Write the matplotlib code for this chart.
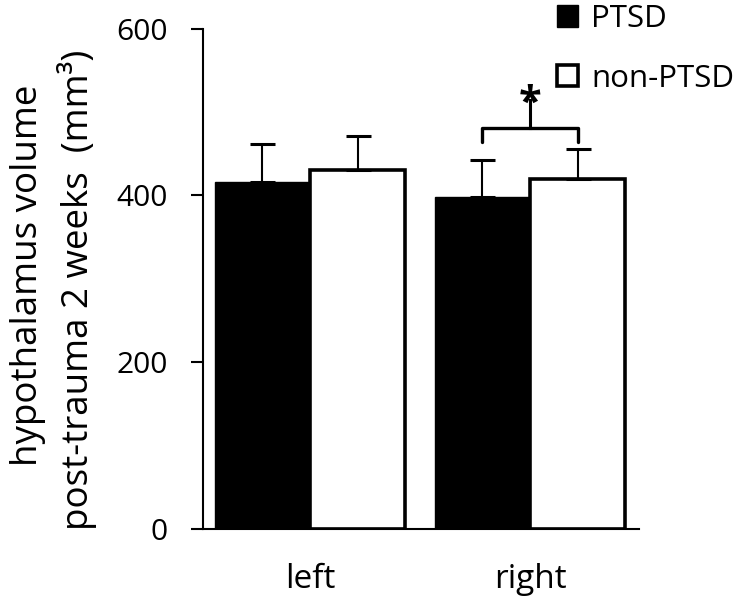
import matplotlib
matplotlib.use("Agg")
import matplotlib.pyplot as plt
from matplotlib.patches import Patch
import numpy as np

plt.rcParams['font.family'] = ['Open Sans', 'DejaVu Sans']

categories = ["left", "right"]
series_names = ["PTSD", "non-PTSD"]
ptsd_values = [416, 398]
non_ptsd_values = [430, 419]
ptsd_err = [46, 44]
non_ptsd_err = [41, 36]
y_ticks = [0, 200, 400, 600]

# significance bracket (right hemisphere)
bracket_top = 481
bracket_end = 464
star_stem_top = 514
star_y = 484
star_label = "*"

fig = plt.figure(figsize=(7.5, 6.05), dpi=100)
ax = fig.add_axes([203/750, 1-528.5/605, 436/750, 500/605])

x = np.arange(len(categories))
w = 0.432
ax.bar(x - w/2, ptsd_values, w, color='black', edgecolor='black', linewidth=1, zorder=2)
ax.bar(x + w/2, non_ptsd_values, w, color='white', edgecolor='black', linewidth=2.6, zorder=2)

ekw = dict(fmt='none', ecolor='black', elinewidth=1.5, capsize=9, capthick=2.2, zorder=3)
ax.errorbar(x - w/2, ptsd_values, yerr=[np.zeros(len(x)), ptsd_err], **ekw)
ax.errorbar(x + w/2, non_ptsd_values, yerr=[np.zeros(len(x)), non_ptsd_err], **ekw)

# bracket
bx0, bx1 = x[1] - w/2, x[1] + w/2
ax.plot([bx0, bx0, bx1, bx1], [bracket_end, bracket_top, bracket_top, bracket_end],
        color='black', lw=2.4, solid_joinstyle='round', solid_capstyle='round', clip_on=False, zorder=4)
ax.plot([x[1], x[1]], [bracket_top, star_stem_top], color='black', lw=2.2, clip_on=False, zorder=4)
ax.text(x[1], star_y, star_label, ha='center', va='bottom', fontsize=30, fontweight='bold',
        clip_on=False)

ax.set_xlim(-0.4864, 1.4955)
ax.set_ylim(0, 600)
ax.set_yticks(y_ticks)
ax.set_yticklabels([str(v) for v in y_ticks], fontsize=21.5)
ax.set_xticks(x)
ax.set_xticklabels(categories, fontsize=24)
ax.tick_params(axis='y', direction='out', length=8.5, width=1.5, pad=17)
ax.tick_params(axis='x', length=0, pad=25)
for s in ['top', 'right']:
    ax.spines[s].set_visible(False)
for s in ['left', 'bottom']:
    ax.spines[s].set_linewidth(1.5)

fig.text(37/750, 1-275/605, "hypothalamus volume", rotation=90, rotation_mode='anchor',
         ha='center', va='baseline', fontsize=26.5)
fig.text(88/750, 1-290/605, "post-trauma 2 weeks  (mm³)", rotation=90, rotation_mode='anchor',
         ha='center', va='baseline', fontsize=26.5)

handles = [Patch(facecolor='black', edgecolor='black', linewidth=1),
           Patch(facecolor='white', edgecolor='black', linewidth=2.6)]
fig.legend(handles, series_names, loc='upper left', bbox_to_anchor=(557/750, 1-4/605),
           frameon=False, fontsize=22.5, handlelength=0.68, handleheight=0.68,
           handletextpad=0.42, labelspacing=0.95, borderpad=0, borderaxespad=0)

fig.savefig("out.png", dpi=100)
